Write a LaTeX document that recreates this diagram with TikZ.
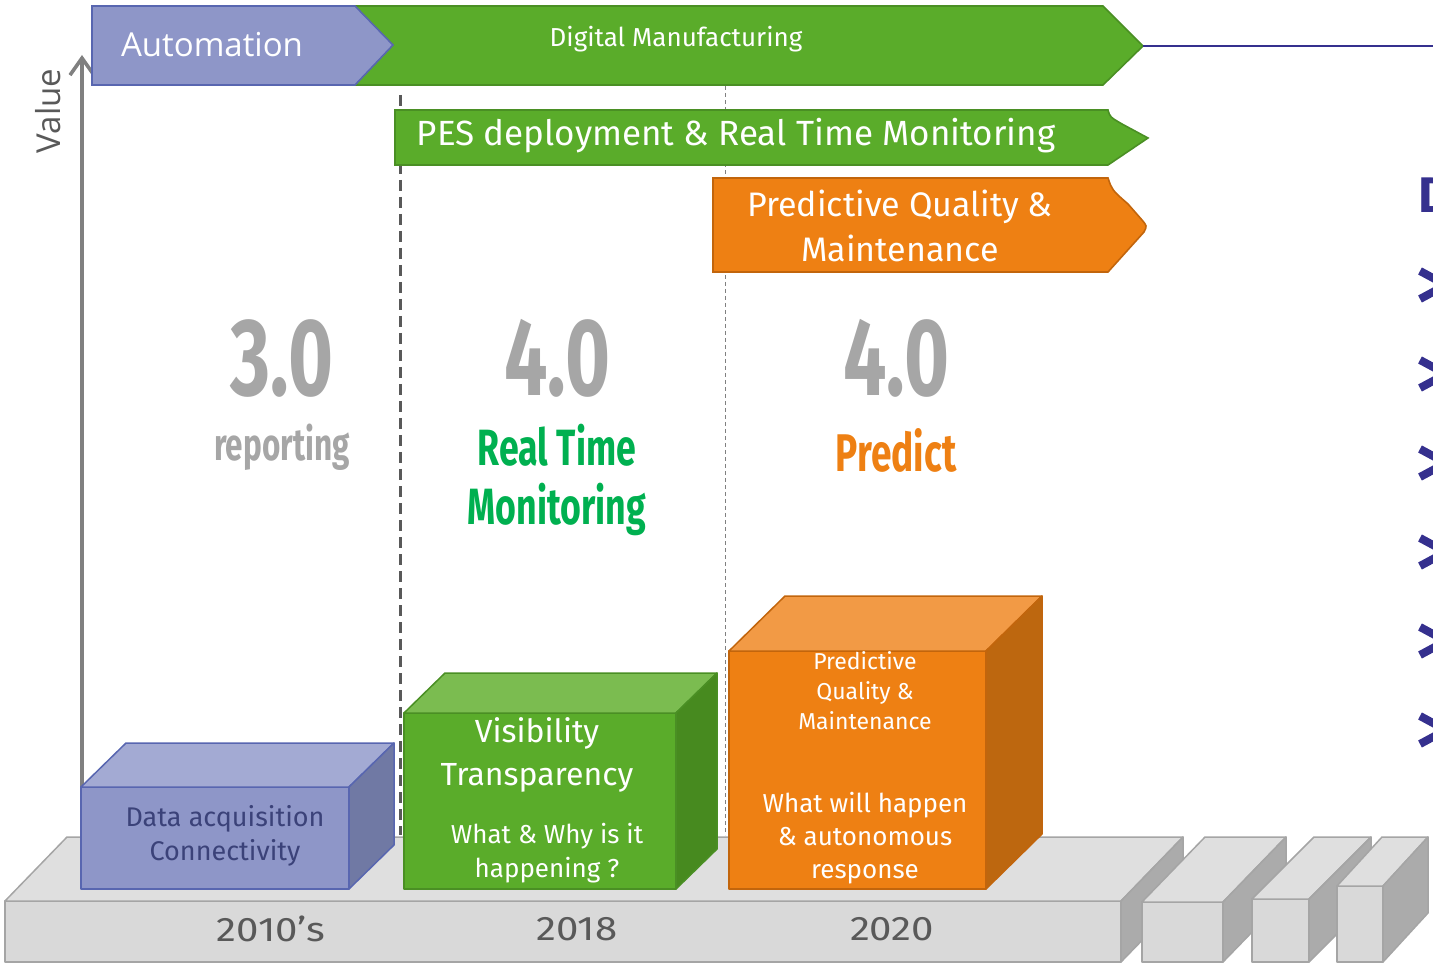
\documentclass[tikz,border=0pt]{standalone}
\usepackage{fontspec}
\setmainfont{Open Sans}
\newfontfamily\dinfont{Fira Sans}
\newfontfamily\yearfont[FakeStretch=1.18]{Fira Sans}
\newfontfamily\agencyfont[FakeStretch=0.7]{Fira Sans}
\usetikzlibrary{arrows.meta}

\definecolor{auto}{HTML}{8E96C8}
\definecolor{autotop}{HTML}{A3AAD3}
\definecolor{autoside}{HTML}{7079A4}
\definecolor{autoline}{HTML}{5866B0}
\definecolor{autotext}{HTML}{3B4279}
\definecolor{mfg}{HTML}{5AAC2A}
\definecolor{mfgtop}{HTML}{7BBC50}
\definecolor{mfgside}{HTML}{478A1F}
\definecolor{mfgline}{HTML}{4A8F24}
\definecolor{pred}{HTML}{EE8013}
\definecolor{predtop}{HTML}{F29A45}
\definecolor{predside}{HTML}{BD670F}
\definecolor{predline}{HTML}{C2650C}
\definecolor{slab}{HTML}{D9D9D9}
\definecolor{slabtop}{HTML}{DFDFDF}
\definecolor{slabside}{HTML}{ABABAB}
\definecolor{slabline}{HTML}{A5A5A5}
\definecolor{rtgreen}{HTML}{00B050}
\definecolor{vergray}{HTML}{A6A6A6}
\definecolor{yeargray}{HTML}{595959}
\definecolor{ink}{HTML}{35308E}

\tikzset{
  banner/.style={line width=1.6pt,line join=miter},
  lbl/.style={inner sep=0pt,align=center,text=white},
  ver/.style={inner sep=0pt,align=center},
  year/.style={inner sep=0pt,text=yeargray,font=\yearfont\fontsize{34}{34}\selectfont},
  chev/.style={ink,line width=8pt,line join=miter}}

% box in cavalier view: left, top, right, bottom, depth x, depth y, colour
\newcommand{\drawblock}[7]{%
  \filldraw[fill=#7,draw=#7line,line width=1.5pt,line join=round]
    (#1,#2) rectangle (#3,#4);
  \filldraw[fill=#7top,draw=#7line,line width=1.5pt,line join=round]
    (#1,#2) -- ({#1+#5},{#2-#6}) -- ({#3+#5},{#2-#6}) -- (#3,#2) -- cycle;
  \filldraw[fill=#7side,draw=#7line,line width=1.5pt,line join=round]
    (#3,#2) -- ({#3+#5},{#2-#6}) -- ({#3+#5},{#4-#6}) -- (#3,#4) -- cycle;
}

\begin{document}
\begin{tikzpicture}[x=1pt,y=-1pt]
  \useasboundingbox (0,0) rectangle (1433,965);

  % guides between the eras
  \coordinate (g1top) at (400,95);  \coordinate (g1bot) at (400,835);
  \coordinate (g2top) at (725,86);  \coordinate (g2bot) at (725,835);
  \draw[yeargray,line width=3pt,dash pattern=on 11pt off 6pt] (g1top) -- (g1bot);
  \draw[gray,line width=1pt,dash pattern=on 4pt off 3pt] (g2top) -- (g2bot);

  % value axis
  \coordinate (axbot) at (82,809);
  \coordinate (axtop) at (82,55);
  \draw[gray,line width=3.6pt,-{Straight Barb[length=17pt,width=24pt]}] (axbot) -- (axtop);
  \node[inner sep=0pt,rotate=90,text=yeargray,font=\fontsize{33}{33}\selectfont] (value) at (48,111) {Value};

  % top banners
  \filldraw[banner,fill=mfg,draw=mfgline] (340,6) -- (1103,6) -- (1143,46) -- (1103,85) -- (340,85) -- cycle;
  \filldraw[banner,fill=auto,draw=autoline] (92,6) -- (355,6) -- (393,45) -- (355,85) -- (92,85) -- cycle;
  \coordinate (dmtip) at (1143,46);
  \coordinate (rim) at (1433,46);
  \draw[ink,line width=1.2pt] (dmtip) -- (rim);
  \node[lbl,font=\fontsize{33}{33}\selectfont] (automation) at (212,45) {Automation};
  \node[lbl,font=\dinfont\fontsize{26}{26}\selectfont] (digital) at (676,39) {Digital Manufacturing};

  \filldraw[banner,fill=mfg,draw=mfgline] (395,110) -- (1108,110)
    .. controls (1110,117) .. (1122,124) -- (1148,138) -- (1108,165) -- (395,165) -- cycle;
  \node[lbl,font=\dinfont\fontsize{35}{35}\selectfont] (pes) at (736,136) {PES deployment \& Real Time Monitoring};

  \filldraw[banner,fill=pred,draw=predline] (713,178) -- (1108,178)
    .. controls (1112,190) .. (1128,204) -- (1142,220) .. controls (1147,226) .. (1144,232) -- (1108,272) -- (713,272) -- cycle;
  \node[lbl,font=\dinfont\fontsize{34}{45}\selectfont] (pqm) at (900,226) {Predictive Quality \&\\Maintenance};

  % eras
  \node[ver,text=vergray,font=\agencyfont\bfseries\fontsize{110}{110}\selectfont] (v30) at (282,358) {3.0};
  \node[ver,text=vergray,font=\agencyfont\bfseries\fontsize{45}{45}\selectfont] (reporting) at (282,447) {reporting};
  \node[ver,text=vergray,font=\agencyfont\bfseries\fontsize{110}{110}\selectfont] (v40a) at (557,358) {4.0};
  \node[ver,text=rtgreen,font=\agencyfont\bfseries\fontsize{51}{59}\selectfont] (realtime) at (557,480) {Real Time\\Monitoring};
  \node[ver,text=vergray,font=\agencyfont\bfseries\fontsize{110}{110}\selectfont] (v40b) at (896,358) {4.0};
  \node[ver,text=pred,font=\agencyfont\bfseries\fontsize{53}{53}\selectfont] (predict) at (896,450) {Predict};

  % base slab and the road ahead
  \drawblock{5}{901}{1121}{962}{62}{64}{slab}
  \drawblock{1142}{902}{1223}{962}{63}{65}{slab}
  \drawblock{1252}{899}{1309}{962}{62}{62}{slab}
  \drawblock{1337}{886}{1383}{962}{45}{49}{slab}
  \node[year] (y2010) at (271,929) {2010’s};
  \node[year] (y2018) at (577,929) {2018};
  \node[year] (y2020) at (892,929) {2020};

  % one block per era
  \drawblock{81}{787}{349}{889}{45}{44}{auto}
  \node[lbl,text=autotext,font=\dinfont\fontsize{27}{34}\selectfont] (dataacq) at (225,836) {Data acquisition\\Connectivity};

  \drawblock{404}{713}{676}{889}{41}{40}{mfg}
  \node[lbl,font=\dinfont\fontsize{32}{43}\selectfont] (visibility) at (537,755) {Visibility\\Transparency};
  \node[lbl,font=\dinfont\fontsize{26}{34}\selectfont] (whatwhy) at (547,853) {What \& Why is it\\happening ?};

  \drawblock{729}{651}{986}{889}{56}{55}{pred}
  \node[lbl,font=\dinfont\fontsize{23}{30}\selectfont] (pqmbox) at (865,691) {Predictive\\Quality \&\\Maintenance};
  \node[lbl,font=\dinfont\fontsize{26}{33}\selectfont] (willhappen) at (865,838) {What will happen\\\& autonomous\\response};

  % list marks running off the right edge
  \node[anchor=west,inner sep=0pt,text=ink,font=\dinfont\bfseries\fontsize{50}{50}\selectfont] (dhead) at (1418,195) {D};
  \foreach \yy in {285,374,463,552,641,730}
    \draw[chev] (1420,\yy-14) -- (1446,\yy) -- (1420,\yy+14);
\end{tikzpicture}
\end{document}
